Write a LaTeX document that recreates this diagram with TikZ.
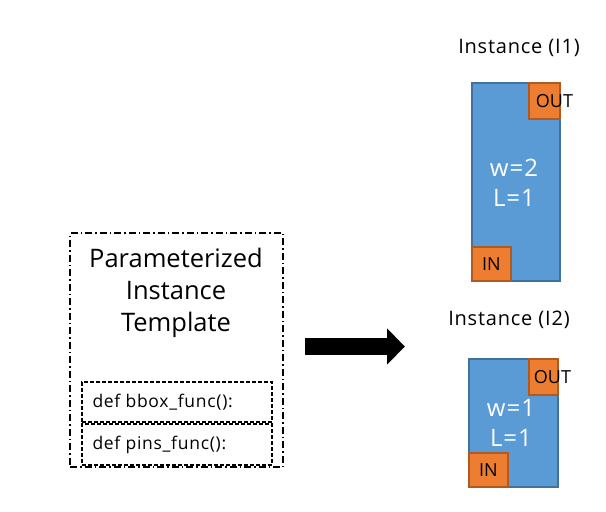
\documentclass[tikz,border=0pt]{standalone}
\usepackage{fontspec}
\setmainfont{Open Sans}
\newfontfamily\widefont[LetterSpace=4]{Open Sans}
\usepackage{xcolor}
\usetikzlibrary{positioning,arrows.meta}

\definecolor{cellfill}{HTML}{5B9BD5}
\definecolor{celledge}{HTML}{41719C}
\definecolor{pinfill}{HTML}{ED7D31}
\definecolor{pinedge}{HTML}{AE5A21}

\tikzset{
  tmplbox/.style={draw, line width=1.5pt, dash pattern=on 7pt off 3pt on 1.5pt off 3pt, minimum width=213pt, minimum height=234pt},
  funcbox/.style={draw, line width=2pt, dash pattern=on 4pt off 2pt, minimum width=190pt},
  functext/.style={anchor=west, font=\widefont\fontsize{17.5}{20}\selectfont},
  cell/.style={draw=celledge, fill=cellfill, line width=2pt},
  pin/.style={draw=pinedge, fill=pinfill, line width=2pt, inner sep=0pt},
  pinlabel/.style={font=\fontsize{18}{20}\selectfont},
  param/.style={text=white, align=center, font=\widefont\fontsize{24}{30}\selectfont},
  insttitle/.style={font=\widefont\fontsize{20}{22}\selectfont}
}

\begin{document}
\begin{tikzpicture}[x=1pt,y=-1pt]
  \useasboundingbox (0,0) rectangle (606,512);

  % template
  \node[tmplbox] (tmpl) at (176.5,350) {};
  \node[align=center, font=\fontsize{25.5}{32}\selectfont] (title) at (176,293) {Parameterized\\Instance\\Template};
  \node[funcbox, minimum height=40pt] (bbox) at (177,402) {};
  \node[funcbox, minimum height=41pt] (pins) at (177,444.5) {};
  \node[functext] (bboxtxt) at (89,402) {def bbox\_func():};
  \node[functext] (pinstxt) at (89,444.5) {def pins\_func():};

  % arrow
  \coordinate (arrA) at (305,346.5);
  \coordinate (arrB) at (405,346.5);
  \draw[line width=17pt, -{Triangle[length=18pt,width=35pt]}] (arrA) -- (arrB);

  % instance I1
  \node[insttitle] (t1) at (519,48) {Instance (I1)};
  \node[cell, minimum width=88pt, minimum height=198pt] (i1) at (516,182) {};
  \node[pin, minimum width=31pt, minimum height=36pt, anchor=north east] (i1out) at (i1.north east) {};
  \node[pin, minimum width=39pt, minimum height=34pt, anchor=south west] (i1in) at (i1.south west) {};
  \node[pinlabel] at ([xshift=10pt]i1out.center) {OUT};
  \node[pinlabel] at (i1in.center) {IN};
  \node[param] (p1) at (514,183) {w=2\\L=1};

  % instance I2
  \node[insttitle] (t2) at (509,320) {Instance (I2)};
  \node[cell, minimum width=89pt, minimum height=128pt] (i2) at (513.5,423) {};
  \node[pin, minimum width=29pt, minimum height=36pt, anchor=north east] (i2out) at (i2.north east) {};
  \node[pin, minimum width=39pt, minimum height=34pt, anchor=south west] (i2in) at (i2.south west) {};
  \node[pinlabel] at ([xshift=9pt]i2out.center) {OUT};
  \node[pinlabel] at (i2in.center) {IN};
  \node[param] (p2) at (511,423) {w=1\\L=1};
\end{tikzpicture}
\end{document}
